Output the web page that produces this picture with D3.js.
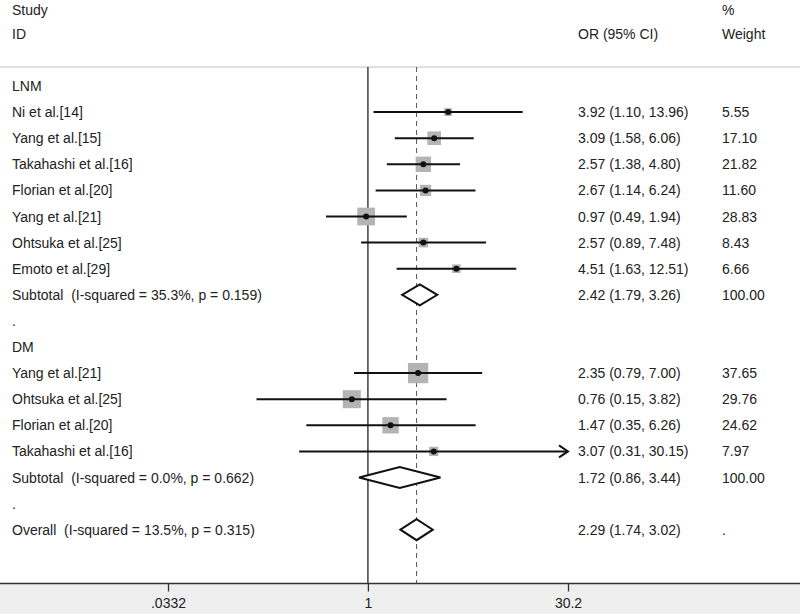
<!DOCTYPE html>
<html><head><meta charset="utf-8">
<script src="https://cdn.jsdelivr.net/npm/d3@7"></script>
<style>body{margin:0;background:#fff}svg{display:block}text{font-family:"Liberation Sans",Arial,sans-serif;font-size:14px;fill:#222;white-space:pre}</style>
</head><body>
<script>
// ---- data ----
const lnmStudies = ["Ni et al.[14]","Yang et al.[15]","Takahashi et al.[16]","Florian et al.[20]","Yang et al.[21]","Ohtsuka et al.[25]","Emoto et al.[29]"];
const lnmOR     = [3.92, 3.09, 2.57, 2.67, 0.97, 2.57, 4.51];
const lnmLower  = [1.10, 1.58, 1.38, 1.14, 0.49, 0.89, 1.63];
const lnmUpper  = [13.96, 6.06, 4.80, 6.24, 1.94, 7.48, 12.51];
const lnmWeight = [5.55, 17.10, 21.82, 11.60, 28.83, 8.43, 6.66];
const lnmSubtotal = {label:"Subtotal  (I-squared = 35.3%, p = 0.159)", or:2.42, lo:1.79, hi:3.26, w:"100.00"};

const dmStudies = ["Yang et al.[21]","Ohtsuka et al.[25]","Florian et al.[20]","Takahashi et al.[16]"];
const dmOR      = [2.35, 0.76, 1.47, 3.07];
const dmLower   = [0.79, 0.15, 0.35, 0.31];
const dmUpper   = [7.00, 3.82, 6.26, 30.15];
const dmWeight  = [37.65, 29.76, 24.62, 7.97];
const dmSubtotal = {label:"Subtotal  (I-squared = 0.0%, p = 0.662)", or:1.72, lo:0.86, hi:3.44, w:"100.00"};

const overall = {label:"Overall  (I-squared = 13.5%, p = 0.315)", or:2.29, lo:1.74, hi:3.02, w:"."};

const tickValues = [0.0332, 1, 30.2];
const tickLabels = [".0332", "1", "30.2"];

// ---- build rows ----
const rows = [];
rows.push({type:"head", label:"LNM"});
lnmStudies.forEach((s,i)=>rows.push({type:"study", label:s, or:lnmOR[i], lo:lnmLower[i], hi:lnmUpper[i], w:lnmWeight[i]}));
rows.push(Object.assign({type:"sub"}, lnmSubtotal));
rows.push({type:"head", label:"."});
rows.push({type:"head", label:"DM"});
dmStudies.forEach((s,i)=>rows.push({type:"study", label:s, or:dmOR[i], lo:dmLower[i], hi:dmUpper[i], w:dmWeight[i]}));
rows.push(Object.assign({type:"sub"}, dmSubtotal));
rows.push({type:"head", label:"."});
rows.push(Object.assign({type:"sub"}, overall));

const W = 800, H = 614;
const svg = d3.select("body").append("svg").attr("width", W).attr("height", H);

const x = d3.scaleLog().domain([tickValues[0], tickValues[2]]).range([168, 568]);
const y = d3.scaleLinear().domain([0, rows.length-1]).range([86, 529.7]);
const plotTop = 67, axisY = 583.5;
const fmt = d3.format(".2f");

// gray band under axis
svg.append("rect").attr("x",0).attr("y",axisY).attr("width",W).attr("height",H-axisY).attr("fill","#efefef");

// header
const hdr = svg.append("g");
hdr.append("text").attr("x",12).attr("y",15).text("Study");
hdr.append("text").attr("x",12).attr("y",39).text("ID");
hdr.append("text").attr("x",578).attr("y",39).text("OR (95% CI)");
hdr.append("text").attr("x",722).attr("y",15).text("%");
hdr.append("text").attr("x",722).attr("y",39).text("Weight");
svg.append("line").attr("x1",0).attr("x2",W).attr("y1",plotTop).attr("y2",plotTop).attr("stroke","#c4c4c4").attr("stroke-width",1.2);

// null line and overall dashed line
svg.append("line").attr("x1",x(1)).attr("x2",x(1)).attr("y1",plotTop).attr("y2",axisY).attr("stroke","#222").attr("stroke-width",1.3);
svg.append("line").attr("x1",x(overall.or)).attr("x2",x(overall.or)).attr("y1",plotTop).attr("y2",axisY)
  .attr("stroke","#555").attr("stroke-width",1).attr("stroke-dasharray","5,4");

// axis
const axis = d3.axisBottom(x).tickValues(tickValues).tickFormat((d,i)=>tickLabels[i]).tickSize(8).tickPadding(7);
const ag = svg.append("g").attr("transform",`translate(0,${axisY})`).call(axis);
ag.select(".domain").remove();
ag.selectAll(".tick line").attr("stroke","#333").attr("stroke-width",1.3);
ag.selectAll(".tick text").attr("fill","#222").style("font-size","14px").style("font-family","'Liberation Sans',Arial,sans-serif");
svg.append("line").attr("x1",0).attr("x2",W).attr("y1",axisY).attr("y2",axisY).attr("stroke","#333").attr("stroke-width",1.5);

// rows
const xMax = x.domain()[1];
rows.forEach((r,i)=>{
  const cy = y(i);
  svg.append("text").attr("x",12).attr("y",cy+5).text(r.label);
  if (r.type === "study") {
    const side = 3.3*Math.sqrt(r.w);
    svg.append("rect").attr("x",x(r.or)-side/2).attr("y",cy-side/2).attr("width",side).attr("height",side).attr("fill","#b4b4b4");
    const hiV = Math.min(r.hi, xMax);
    svg.append("line").attr("x1",x(r.lo)).attr("x2",x(hiV)).attr("y1",cy).attr("y2",cy).attr("stroke","#111").attr("stroke-width",2);
    if (r.hi >= xMax*0.99) {
      const ax = x(xMax);
      svg.append("path").attr("d",`M${ax-9},${cy-6}L${ax},${cy}L${ax-9},${cy+6}`).attr("fill","none").attr("stroke","#111").attr("stroke-width",2);
    }
    svg.append("circle").attr("cx",x(r.or)).attr("cy",cy).attr("r",3).attr("fill","#111");
    svg.append("text").attr("x",578).attr("y",cy+5).text(`${fmt(r.or)} (${fmt(r.lo)}, ${fmt(r.hi)})`);
    svg.append("text").attr("x",722).attr("y",cy+5).text(fmt(r.w));
  } else if (r.type === "sub") {
    const hh = 10.5;
    svg.append("path").attr("d",`M${x(r.lo)},${cy}L${x(r.or)},${cy-hh}L${x(r.hi)},${cy}L${x(r.or)},${cy+hh}Z`)
      .attr("fill","#fff").attr("stroke","#111").attr("stroke-width",2);
    svg.append("text").attr("x",578).attr("y",cy+5).text(`${fmt(r.or)} (${fmt(r.lo)}, ${fmt(r.hi)})`);
    svg.append("text").attr("x",722).attr("y",cy+5).text(r.w);
  }
});
</script>
</body></html>
